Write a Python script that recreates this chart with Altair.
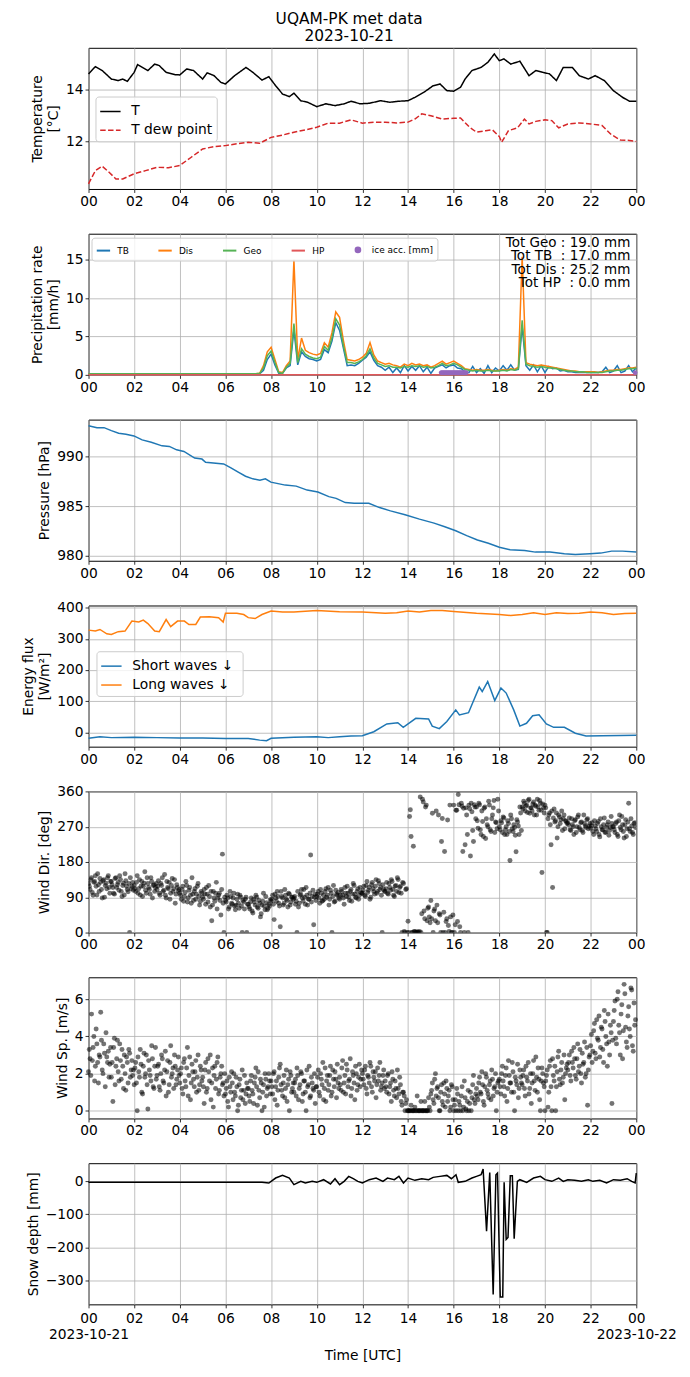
import altair as alt
import pandas as pd

# ---------------- data ----------------
# Temperature [degC]
T_t = [0, 0.3, 0.6, 1.0, 1.3, 1.5, 1.7, 2.0, 2.15, 2.6, 2.9, 3.1, 3.4, 3.8, 4.0, 4.3, 4.6, 5.0, 5.2, 5.5,
       5.8, 6.0, 6.4, 6.9, 7.2, 7.6, 7.9, 8.2, 8.5, 8.8, 9.0, 9.3, 9.6, 10.0, 10.4, 10.8, 11.2, 11.5, 11.9, 12.3,
       12.8, 13.2, 13.6, 14.0, 14.3, 14.7, 15.1, 15.4, 15.7, 16.0, 16.3, 16.5, 16.8, 17.2, 17.5, 17.78, 18.0, 18.2, 18.5, 18.9,
       19.3, 19.6, 19.9, 20.2, 20.5, 20.8, 21.2, 21.5, 21.9, 22.2, 22.6, 23.0, 23.4, 23.7, 24.0]
T_v = [14.61, 14.89, 14.74, 14.41, 14.35, 14.41, 14.32, 14.67, 14.97, 14.74, 14.99, 14.93, 14.67, 14.58, 14.57, 14.8, 14.74, 14.41, 14.65, 14.54,
       14.28, 14.22, 14.54, 14.86, 14.67, 14.37, 14.50, 14.15, 13.83, 13.73, 13.86, 13.57, 13.51, 13.34, 13.45, 13.38, 13.45, 13.55, 13.45, 13.47,
       13.57, 13.51, 13.55, 13.57, 13.7, 13.9, 14.15, 14.22, 13.96, 13.94, 14.09, 14.41, 14.74, 14.86, 15.06, 15.38, 15.12, 15.19, 14.99, 15.1,
       14.54, 14.74, 14.67, 14.61, 14.35, 14.86, 14.86, 14.54, 14.41, 14.54, 14.35, 13.96, 13.70, 13.55, 13.55]
Td_t = [0, 0.3, 0.6, 0.9, 1.2, 1.5, 2.0, 2.5, 3.0, 3.5, 4.0, 4.5, 5.0, 5.5, 6.0, 6.5, 7.0, 7.5, 8.0, 8.5,
        9.0, 9.5, 10.0, 10.5, 11.0, 11.5, 12.0, 12.5, 13.0, 13.5, 14.0, 14.3, 14.6, 15.0, 15.5, 16.0, 16.3, 16.7, 17.0, 17.4,
        17.7, 18.0, 18.1, 18.4, 18.8, 19.1, 19.3, 19.6, 20.0, 20.3, 20.6, 21.0, 21.5, 22.0, 22.5, 22.9, 23.3, 23.7, 24.0]
Td_v = [10.35, 10.86, 11.03, 10.80, 10.54, 10.54, 10.74, 10.86, 10.99, 10.97, 11.06, 11.38, 11.70, 11.79, 11.83, 11.90, 11.96, 11.92, 12.15, 12.24,
        12.35, 12.44, 12.54, 12.70, 12.70, 12.83, 12.70, 12.74, 12.74, 12.71, 12.74, 12.86, 13.06, 12.99, 12.86, 12.89, 12.9, 12.54, 12.35, 12.41,
        12.44, 12.18, 11.96, 12.41, 12.52, 12.86, 12.67, 12.77, 12.83, 12.8, 12.52, 12.67, 12.71, 12.67, 12.61, 12.26, 12.05, 12.03, 11.99]

# Precipitation rate [mm/h] : two early samples, then 10-min samples from 07:30
PR_t = [0, 7.33] + [7.5 + i / 6 for i in range(100)]
PR_dis = [0.15, 0.15,
          0.2, 1.2, 3.0, 3.6, 2.0, 0.4, 0.3, 1.2, 1.8, 15.0, 2.0, 4.8,
          3.2, 2.9, 2.7, 2.6, 2.8, 4.2, 3.6, 5.5, 8.2, 7.5, 4.5, 2.0,
          1.9, 1.8, 2.0, 2.3, 2.8, 4.2, 2.6, 1.8, 1.6, 1.4, 1.5, 1.3,
          1.2, 1.0, 1.4, 1.2, 1.5, 1.3, 1.4, 1.2, 1.3, 1.0, 1.2, 1.5,
          1.8, 1.4, 1.6, 1.8, 1.5, 1.2, 0.8, 0.7, 0.6, 0.7, 0.6, 0.6,
          0.7, 0.6, 0.5, 0.6, 0.7, 0.6, 0.8, 0.7, 1.0, 15.4, 1.6, 1.4,
          1.3, 1.2, 1.3, 1.2, 1.1, 1.0, 0.9, 0.8, 0.7, 0.6, 0.5, 0.5,
          0.4, 0.4, 0.4, 0.4, 0.4, 0.3, 0.4, 0.5, 0.6, 0.6, 0.7, 0.7,
          0.8, 0.9, 0.9, 1.0]
PR_geo = [0.15, 0.15,
          0.2, 0.9, 2.5, 3.1, 1.6, 0.3, 0.2, 1.0, 1.5, 6.7, 1.6, 3.4,
          2.7, 2.4, 2.2, 2.1, 2.3, 3.7, 3.2, 4.8, 7.3, 6.5, 3.8, 1.6,
          1.6, 1.5, 1.7, 2.0, 2.5, 3.4, 2.2, 1.5, 1.3, 1.1, 1.2, 1.0,
          1.0, 0.9, 1.1, 1.0, 1.2, 1.1, 1.2, 1.0, 1.1, 0.9, 1.0, 1.2,
          1.5, 1.2, 1.3, 1.5, 1.3, 1.0, 0.7, 0.6, 0.5, 0.6, 0.5, 0.5,
          0.6, 0.5, 0.5, 0.5, 0.6, 0.5, 0.7, 0.6, 0.8, 7.1, 1.4, 1.2,
          1.1, 1.0, 1.1, 1.0, 0.9, 0.9, 0.8, 0.7, 0.6, 0.5, 0.5, 0.4,
          0.4, 0.4, 0.3, 0.3, 0.3, 0.3, 0.3, 0.4, 0.5, 0.5, 0.6, 0.6,
          0.7, 0.8, 0.8, 0.9]
PR_tb = [0.15, 0.15,
         0.15, 0.6, 2.0, 2.7, 1.3, 0.2, 0.2, 0.9, 1.2, 5.9, 1.3, 3.0,
         2.4, 2.1, 2.0, 1.8, 2.0, 3.3, 2.9, 4.4, 6.8, 5.8, 3.5, 1.2,
         1.3, 1.2, 1.5, 1.9, 2.3, 3.0, 1.9, 1.2, 1.0, 0.6, 1.0, 0.3,
         0.9, 0.3, 1.2, 0.5, 1.1, 0.6, 1.2, 0.4, 1.0, 0.2, 0.9, 1.1,
         1.3, 0.9, 1.2, 1.3, 0.9, 0.8, 0.4, 0.3, 1.1, 0.3, 0.8, 0.2,
         1.2, 0.3, 0.9, 0.5, 1.2, 0.6, 1.3, 0.6, 0.7, 6.3, 1.2, 0.6,
         1.3, 0.4, 1.2, 0.3, 1.1, 0.8, 0.9, 0.5, 0.6, 0.4, 0.4, 0.3,
         0.3, 0.3, 0.3, 0.3, 0.3, 0.3, 0.4, 1.0, 0.3, 0.5, 1.2, 0.3,
         0.5, 1.2, 0.4, 0.9]
HP_t = [0, 24]
HP_v = [0.0, 0.0]
ICE_t = [15.45, 15.5, 15.55, 15.6, 15.65, 15.7, 15.75, 15.8, 15.85, 15.9, 15.95, 16.0,
         16.05, 16.1, 16.15, 16.2, 16.25, 16.3, 16.35, 16.4, 16.45, 16.5, 16.55, 23.95]
ICE_v = [0.3, 0.3, 0.3, 0.3, 0.3, 0.3, 0.3, 0.3, 0.3, 0.3, 0.3, 0.3,
         0.3, 0.3, 0.3, 0.3, 0.3, 0.3, 0.3, 0.3, 0.3, 0.3, 0.3, 0.3]
TOTALS = ["Tot Geo : 19.0 mm", "Tot TB\u00a0 : 17.0 mm", "Tot Dis : 25.2 mm", "Tot HP\u00a0 : 0.0 mm"]

# Pressure [hPa]
P_t = [0.0, 0.37, 0.68, 1.0, 1.32, 1.64, 1.99, 2.35, 2.75, 3.22, 3.54, 3.86, 4.18, 4.65, 4.97, 5.13, 5.92, 6.24, 6.56, 6.88,
       7.2, 7.51, 7.75, 7.99, 8.62, 9.1, 9.58, 10.05, 10.53, 10.85, 11.25, 11.64, 12.28, 12.75, 13.23, 13.87, 14.5, 15.14, 15.61, 16.09,
       16.57, 17.04, 17.52, 18.0, 18.47, 19.11, 19.58, 20.22, 20.85, 21.33, 21.97, 22.44, 22.92, 23.4, 24.0]
P_v = [993.09, 992.89, 992.89, 992.59, 992.33, 992.23, 992.06, 991.66, 991.43, 991.06, 991.0, 990.66, 990.5, 989.83, 989.73, 989.4, 989.24, 988.84, 988.41, 988.0,
       987.74, 987.61, 987.74, 987.41, 987.11, 987.01, 986.61, 986.41, 985.95, 985.78, 985.35, 985.28, 985.28, 984.85, 984.52, 984.12, 983.69, 983.29, 982.92, 982.52,
       982.03, 981.59, 981.26, 980.86, 980.6, 980.53, 980.37, 980.37, 980.2, 980.13, 980.2, 980.27, 980.47, 980.47, 980.37]

# Energy flux [W/m2]
SW_t = [0, 0.5, 1, 2, 3, 4, 5, 6, 7, 7.5, 7.8, 8, 9, 10, 10.5, 11, 11.5, 12, 12.5, 13.07,
        13.55, 13.79, 14.34, 14.9, 15.06, 15.37, 15.7, 16.09, 16.25, 16.65, 17.12, 17.25, 17.49, 17.8, 18.07, 18.3, 18.63, 18.9, 19.19, 19.46,
        19.74, 20.06, 20.38, 20.85, 21.33, 21.8, 22.5, 23.3, 24]
SW_v = [-19, -14, -17, -16, -17, -18, -18, -20, -20, -25, -27, -19, -16, -14, -17, -14, -12, -11, 2, 27,
        31, 16, 45, 43, 20, 12, 35, 72, 56, 63, 145, 131, 163, 102, 142, 126, 72, 20, 29, 53,
        56, 27, 16, 16, -3, -12, -11, -10, -9]
LW_t = [0, 0.3, 0.5, 0.8, 1.0, 1.3, 1.6, 1.9, 2.2, 2.4, 2.6, 2.9, 3.1, 3.4, 3.6, 3.9, 4.2, 4.4, 4.7, 4.9,
        5.3, 5.7, 5.9, 6.0, 6.5, 6.8, 7.0, 7.3, 7.6, 8.0, 8.5, 9, 10, 11, 12, 13, 13.5, 14, 14.5, 15,
        15.5, 16, 17, 18, 18.5, 19, 19.5, 20, 20.5, 21, 21.5, 22, 22.5, 23, 23.5, 24]
LW_v = [328, 325, 330, 316, 314, 323, 325, 357, 354, 360, 349, 325, 323, 362, 339, 357, 357, 346, 346, 370,
        371, 368, 354, 382, 382, 378, 368, 365, 378, 389, 386, 386, 391, 387, 386, 382, 384, 389, 386, 391,
        391, 388, 382, 378, 375, 378, 384, 378, 384, 381, 382, 386, 384, 378, 381, 382]

# Wind direction [deg]: per hour, 15 samples on the even 4-min marks (A) and 15 in between (B)
WDIR_A = [
    [125, 110, 140, 95, 130, 118, 150, 105, 128, 88, 135, 120, 112, 145, 100],
    [130, 115, 98, 140, 122, 108, 135, 92, 126, 150, 118, 104, 0, 112, 128],
    [120, 105, 145, 112, 96, 130, 118, 155, 100, 125, 110, 140, 88, 122, 115],
    [110, 132, 95, 120, 105, 148, 88, 115, 128, 100, 138, 112, 75, 122, 106],
    [100, 85, 118, 92, 130, 78, 108, 95, 140, 82, 112, 98, 125, 70, 105],
    [90, 110, 72, 98, 120, 65, 30, 105, 80, 128, 88, 100, 45, 200, 0],
    [82, 95, 60, 105, 75, 88, 68, 70, 98, 62, 90, 0, 78, 85, 0],
    [72, 60, 88, 50, 78, 95, 65, 82, 40, 70, 100, 58, 76, 62, 68],
    [80, 95, 33, 88, 105, 75, 15, 92, 70, 110, 85, 65, 98, 78, 90],
    [88, 72, 0, 65, 95, 110, 80, 90, 115, 70, 85, 198, 92, 20, 98],
    [92, 105, 75, 100, 82, 85, 112, 95, 70, 108, 0, 120, 80, 98, 102],
    [85, 110, 95, 72, 100, 118, 90, 105, 80, 125, 98, 88, 112, 95, 102],
    [100, 118, 92, 130, 108, 85, 122, 112, 98, 135, 105, 125, 115, 0, 110],
    [105, 128, 98, 115, 135, 110, 92, 120, 140, 102, 118, 0, 125, 0, 112],
    [29, 296, 245, 0, 3, 0, 2, 0, 346, 48, 333, 35, 325, 62, 40],
    [82, 304, 55, 30, 70, 300, 45, 232, 0, 207, 28, 287, 3, 40, 0],
    [325, 20, 312, 352, 15, 330, 207, 0, 318, 250, 325, 195, 308, 232, 320],
    [320, 266, 326, 250, 283, 317, 240, 275, 335, 262, 290, 318, 255, 280, 340],
    [270, 285, 255, 292, 262, 250, 278, 184, 290, 258, 268, 206, 282, 250, 305],
    [320, 335, 310, 325, 337, 304, 318, 328, 300, 322, 340, 312, 330, 153, 318],
    [325, 0, 290, 305, 224, 115, 315, 285, 241, 300, 278, 310, 290, 265, 283],
    [280, 292, 260, 275, 250, 288, 270, 300, 262, 282, 255, 278, 268, 290, 272],
    [266, 280, 250, 272, 258, 283, 244, 270, 262, 292, 256, 275, 248, 268, 278],
    [270, 255, 282, 245, 300, 262, 275, 241, 288, 265, 330, 258, 272, 250, 280],
]
WDIR_B = [
    [118, 135, 102, 128, 145, 96, 122, 138, 110, 132, 90, 126, 140, 115, 130],
    [122, 100, 138, 115, 128, 145, 105, 120, 96, 132, 110, 125, 140, 118, 108],
    [112, 128, 100, 135, 118, 92, 126, 108, 140, 115, 98, 130, 120, 105, 125],
    [118, 100, 125, 140, 108, 95, 130, 112, 85, 120, 105, 135, 98, 115, 110],
    [95, 110, 80, 102, 120, 88, 115, 75, 98, 105, 85, 118, 92, 80, 100],
    [85, 98, 115, 78, 92, 105, 70, 88, 100, 60, 95, 82, 110, 75, 90],
    [78, 88, 65, 92, 72, 100, 58, 85, 75, 95, 68, 82, 60, 90, 72],
    [65, 78, 55, 85, 70, 90, 62, 75, 48, 80, 68, 92, 58, 72, 84],
    [85, 72, 98, 80, 92, 68, 105, 88, 75, 95, 82, 100, 70, 90, 85],
    [92, 80, 105, 75, 98, 88, 110, 72, 95, 85, 100, 78, 108, 90, 82],
    [98, 88, 110, 80, 95, 105, 90, 115, 85, 100, 92, 78, 108, 95, 88],
    [95, 105, 88, 115, 92, 100, 82, 110, 98, 120, 90, 105, 85, 115, 100],
    [108, 95, 120, 102, 115, 90, 128, 105, 118, 100, 132, 110, 95, 122, 105],
    [112, 100, 125, 108, 130, 95, 118, 105, 135, 115, 100, 128, 3, 110, 0],
    [0, 313, 0, 220, 2, 0, 0, 3, 0, 340, 55, 320, 30, 65, 25],
    [35, 0, 60, 310, 25, 48, 0, 291, 52, 0, 35, 18, 325, 0, 45],
    [0, 312, 28, 326, 0, 322, 317, 224, 300, 0, 316, 330, 260, 326, 290],
    [285, 330, 262, 310, 245, 320, 290, 270, 325, 258, 300, 337, 282, 265, 310],
    [262, 280, 295, 250, 270, 285, 258, 300, 265, 275, 248, 288, 272, 320, 260],
    [315, 330, 322, 306, 340, 318, 310, 333, 325, 300, 320, 337, 312, 328, 305],
    [318, 0, 300, 275, 310, 292, 282, 305, 270, 295, 288, 260, 300, 285, 278],
    [275, 262, 290, 270, 285, 255, 295, 268, 280, 260, 300, 272, 288, 265, 278],
    [272, 258, 285, 265, 278, 250, 290, 262, 275, 255, 268, 282, 260, 296, 270],
    [262, 278, 250, 285, 268, 296, 258, 275, 245, 282, 265, 290, 255, 278, 268],
]
# Wind speed [m/s], same sampling as the direction
WSPD_A = [
    [2.1, 2.8, 5.2, 3.4, 1.6, 4.4, 2.6, 3.0, 5.3, 2.2, 3.6, 1.3, 2.9, 3.2, 2.5],
    [1.8, 0.5, 3.9, 2.4, 3.8, 1.6, 2.7, 3.3, 1.2, 2.0, 2.9, 1.5, 3.1, 2.2, 1.9],
    [1.4, 2.6, 0.0, 2.1, 3.3, 1.0, 2.4, 1.8, 3.0, 0.1, 2.2, 1.6, 2.8, 1.2, 3.4],
    [1.9, 2.5, 1.1, 3.0, 1.6, 2.2, 0.8, 2.7, 1.4, 3.5, 2.0, 1.2, 2.4, 1.7, 2.9],
    [1.5, 2.3, 0.9, 2.8, 1.3, 3.4, 1.9, 0.6, 2.5, 1.7, 2.1, 1.0, 3.0, 1.4, 2.2],
    [1.8, 0.4, 2.6, 1.2, 2.1, 3.0, 1.5, 0.2, 2.4, 1.7, 2.9, 1.1, 2.0, 1.4, 0.8],
    [0.9, 1.6, 0.2, 1.3, 2.1, 0.6, 1.0, 1.8, 0.0, 1.4, 0.7, 2.2, 1.1, 0.4, 1.5],
    [1.2, 0.5, 1.9, 0.9, 1.5, 2.3, 0.3, 1.1, 1.7, 0.0, 1.4, 2.0, 0.8, 1.3, 1.6],
    [1.6, 0.9, 2.1, 1.3, 0.3, 1.8, 2.5, 1.1, 1.5, 0.7, 2.2, 1.4, 0.0, 1.9, 1.2],
    [1.0, 1.7, 2.3, 0.6, 1.4, 2.0, 0.9, 1.6, 0.0, 1.3, 2.4, 0.8, 1.5, 1.1, 0.4],
    [1.3, 2.2, 0.8, 1.7, 2.6, 1.2, 0.5, 1.9, 1.4, 2.4, 1.0, 1.7, 2.1, 0.7, 1.5],
    [1.8, 1.1, 2.7, 1.5, 0.9, 2.2, 1.6, 2.8, 1.2, 1.9, 0.6, 2.0, 1.4, 2.5, 1.7],
    [2.0, 1.4, 2.4, 0.9, 1.8, 2.6, 1.3, 2.1, 1.6, 0.7, 2.3, 1.9, 1.1, 1.5, 2.2],
    [1.6, 1.0, 2.0, 1.3, 0.5, 1.7, 0.8, 1.2, 2.2, 0.9, 1.4, 0.3, 1.0, 0.0, 0.6],
    [0.0, 0.0, 0.3, 0.0, 0.0, 0.0, 0.8, 0.0, 0.0, 0.0, 0.0, 0.5, 0.0, 0.0, 0.2],
    [0.9, 1.5, 0.4, 2.0, 1.2, 0.7, 0.0, 1.4, 0.3, 0.9, 1.6, 0.5, 1.1, 0.2, 1.3],
    [0.0, 0.6, 1.2, 0.0, 0.3, 0.8, 0.0, 1.6, 0.1, 0.5, 0.0, 1.0, 0.7, 1.9, 0.4],
    [1.2, 0.6, 1.8, 0.9, 1.4, 0.3, 2.0, 1.1, 0.7, 1.6, 2.2, 0.8, 1.3, 0.0, 1.5],
    [1.7, 0.9, 2.4, 1.3, 1.9, 0.5, 2.7, 1.5, 1.0, 2.1, 0.0, 1.6, 2.5, 1.2, 1.8],
    [1.4, 2.2, 0.8, 1.8, 2.6, 1.2, 0.4, 2.0, 1.6, 2.9, 1.0, 1.7, 0.0, 2.3, 1.5],
    [0.0, 1.9, 0.2, 2.4, 1.3, 2.8, 1.6, 0.0, 2.1, 3.2, 1.4, 2.6, 1.8, 0.6, 2.3],
    [2.2, 3.0, 1.6, 2.6, 3.4, 1.9, 2.8, 2.1, 3.3, 1.5, 2.5, 3.7, 2.0, 0.3, 2.9],
    [3.5, 2.6, 4.3, 3.1, 4.9, 3.8, 2.9, 4.5, 3.3, 5.4, 4.0, 2.4, 3.7, 4.6, 0.4],
    [4.8, 5.9, 3.6, 6.4, 4.2, 5.2, 2.8, 6.8, 4.5, 3.4, 5.6, 4.0, 6.5, 3.2, 4.6],
]
WSPD_B = [
    [3.3, 1.9, 2.7, 4.0, 2.4, 3.6, 1.5, 2.9, 3.8, 2.0, 3.1, 4.2, 2.6, 1.8, 3.4],
    [2.6, 3.4, 1.4, 2.8, 2.1, 3.6, 1.7, 2.4, 3.0, 1.1, 2.6, 3.3, 1.8, 2.7, 2.2],
    [2.3, 1.5, 2.9, 1.8, 2.5, 0.9, 3.1, 2.0, 1.4, 2.7, 1.9, 3.5, 1.3, 2.4, 1.7],
    [2.4, 1.3, 2.0, 2.8, 1.5, 3.2, 2.1, 1.0, 2.6, 1.8, 2.3, 3.0, 1.4, 2.2, 1.9],
    [2.0, 1.2, 2.6, 1.6, 2.3, 0.8, 2.9, 1.5, 2.1, 1.3, 2.7, 1.8, 1.1, 2.4, 1.6],
    [1.3, 2.2, 1.0, 2.8, 1.6, 0.6, 2.3, 1.9, 1.2, 2.6, 0.9, 1.8, 2.4, 1.5, 2.0],
    [1.2, 0.5, 1.8, 1.0, 1.5, 2.0, 0.8, 1.3, 0.3, 1.7, 1.1, 0.6, 1.9, 0.9, 1.2],
    [0.8, 1.6, 1.1, 0.4, 1.8, 1.3, 2.1, 0.7, 1.5, 1.0, 0.2, 1.7, 1.2, 2.0, 0.9],
    [1.3, 2.0, 0.6, 1.6, 1.1, 2.3, 1.4, 0.8, 1.9, 1.2, 0.5, 1.7, 2.1, 1.0, 1.5],
    [1.5, 0.8, 1.9, 1.2, 2.1, 0.5, 1.6, 1.0, 2.2, 1.4, 0.7, 1.8, 1.2, 2.0, 1.3],
    [1.8, 1.0, 2.0, 1.4, 0.6, 2.3, 1.6, 1.1, 1.9, 0.8, 2.2, 1.3, 1.7, 2.5, 1.2],
    [1.4, 2.3, 1.0, 1.9, 2.5, 1.3, 1.7, 0.8, 2.1, 1.5, 2.4, 1.1, 1.8, 1.3, 2.2],
    [1.7, 2.2, 1.2, 1.9, 1.5, 2.4, 1.0, 1.8, 2.1, 1.4, 1.6, 2.6, 1.3, 1.9, 1.2],
    [1.3, 1.9, 0.9, 1.5, 2.1, 1.1, 1.6, 0.7, 1.2, 1.8, 0.5, 1.0, 0.8, 0.4, 0.0],
    [0.0, 0.0, 0.0, 0.0, 0.2, 0.0, 0.0, 0.0, 0.5, 0.0, 0.0, 0.0, 0.0, 0.7, 0.0],
    [1.1, 0.6, 1.7, 0.8, 1.3, 0.0, 1.0, 0.5, 1.5, 0.2, 1.2, 0.8, 0.0, 1.4, 0.6],
    [0.3, 0.0, 0.9, 0.5, 0.0, 1.3, 0.2, 0.7, 0.0, 1.1, 0.4, 0.0, 1.4, 0.6, 0.9],
    [0.8, 1.5, 1.0, 2.1, 0.5, 1.3, 1.8, 0.9, 1.4, 0.6, 1.7, 1.2, 2.0, 1.0, 1.6],
    [1.3, 2.0, 1.6, 0.8, 2.3, 1.2, 1.9, 1.5, 2.6, 1.0, 1.8, 1.4, 0.7, 2.2, 1.5],
    [1.9, 1.2, 2.4, 1.6, 0.9, 2.0, 1.5, 2.7, 1.1, 1.8, 2.3, 0.6, 1.6, 2.0, 1.3],
    [1.6, 2.2, 1.0, 2.7, 0.0, 1.9, 2.4, 1.3, 2.9, 1.7, 2.2, 1.5, 3.0, 2.0, 2.5],
    [2.6, 1.9, 3.2, 2.3, 2.8, 1.7, 3.6, 2.4, 2.0, 3.1, 2.6, 1.8, 3.4, 2.2, 3.0],
    [4.1, 3.2, 4.7, 2.8, 3.9, 5.1, 3.4, 4.4, 2.6, 4.8, 3.6, 5.2, 3.0, 4.2, 3.8],
    [5.4, 3.9, 6.0, 4.6, 3.0, 5.7, 4.3, 6.3, 3.7, 5.1, 4.4, 6.6, 3.5, 5.8, 4.9],
]

# Snow depth [mm]
S_t = [0, 7.6, 7.9, 8.2, 8.5, 8.8, 9.0, 9.3, 9.5, 9.8, 10.0, 10.3, 10.6, 10.8, 11.0, 11.2, 11.4, 11.6, 11.8, 12.0,
       12.3, 12.6, 12.9, 13.1, 13.4, 13.6, 13.8, 14.0, 14.3, 14.6, 14.9, 15.1, 15.4, 15.7, 15.9, 16.1, 16.2, 16.5, 16.8, 17.0,
       17.2, 17.29, 17.44, 17.58, 17.73, 17.85, 17.92, 18.04, 18.15, 18.21, 18.3, 18.38, 18.48, 18.57, 18.65, 18.79, 18.9, 19.2, 19.5, 19.8,
       20.0, 20.3, 20.6, 20.8, 21.0, 21.3, 21.6, 21.9, 22.1, 22.4, 22.7, 23.0, 23.3, 23.6, 23.8, 23.95, 24.0]
S_v = [-3, -3, -5, 10, 18, 10, -10, 0, -5, 0, -3, 5, -8, 8, -10, 0, 15, 8, 0, -5,
       5, 10, 0, 10, 5, 15, -5, 10, 3, 8, 5, 12, 15, 18, 8, 20, -3, 0, 10, 15,
       20, 37, -151, 27, -343, 20, 25, -351, -351, -3, -176, -170, 17, 17, -174, 0, 5, -3, 10, 15,
       5, 0, 10, 0, 5, 3, 0, 5, 0, 3, -5, 5, 3, 8, 0, -5, 25]

# ---------------- styling ----------------
FONT = "DejaVu Sans"
FS = 13.9
W, H = 551, 142
BLUE, ORANGE, GREEN, RED, PURPLE = "#1f77b4", "#ff7f0e", "#56b356", "#e15759", "#9467bd"
DOT = "M-0.35,0A0.35,0.35 0 1,0 0.35,0A0.35,0.35 0 1,0 -0.35,0Z"   # small dot symbol (unit coords)
XSC = alt.Scale(domain=[0, 24], nice=False, zero=False)
XTICKS = list(range(0, 25, 2))
LBL = "(datum.value % 24 < 10 ? '0' : '') + (datum.value % 24)"
LBL_BOTTOM = ("datum.value == 0 ? ['00', '2023-10-21'] : (datum.value == 24 ? ['00', '2023-10-22'] : "
              + LBL + ")")


def xenc(bottom=False):
    if bottom:
        ax = alt.Axis(values=XTICKS, labelExpr=LBL_BOTTOM, title="Time [UTC]", labelFlush=False,
                      labelOverlap=False, labelLineHeight=16, labelPadding=4, titlePadding=7)
    else:
        ax = alt.Axis(values=XTICKS, labelExpr=LBL, title=None, labelFlush=False, labelOverlap=False)
    return alt.X("t:Q", scale=XSC, axis=ax)


def yenc(domain, ticks, title):
    return alt.Y("v:Q", scale=alt.Scale(domain=domain, nice=False, zero=False),
                 axis=alt.Axis(values=ticks, title=title, labelFlush=False, labelOverlap=False))


def box_legend(x, y, **kw):
    base = dict(title=None, orient="none", legendX=x, legendY=y, symbolType="stroke",
                symbolStrokeWidth=1.5, strokeColor="#cccccc", fillColor="rgba(255,255,255,0.8)",
                cornerRadius=3, labelFont=FONT, labelColor="black")
    base.update(kw)
    return alt.Legend(**base)


# ---- panel 1: temperature ----
df1 = pd.concat([pd.DataFrame({"t": T_t, "v": T_v, "s": "T"}),
                 pd.DataFrame({"t": Td_t, "v": Td_v, "s": "T dew point"})])
leg1 = box_legend(7, 49, symbolSize=420, labelFontSize=FS, padding=4, rowPadding=1, labelOffset=10)
p1 = alt.Chart(df1).mark_line(strokeWidth=1.5).encode(
    x=xenc(), y=yenc([10.15, 15.62], [12, 14], ["Temperature", "[°C]"]),
    color=alt.Color("s:N", scale=alt.Scale(domain=["T", "T dew point"], range=["black", "#d62728"]), legend=leg1),
    strokeDash=alt.StrokeDash("s:N", scale=alt.Scale(domain=["T", "T dew point"], range=[[1, 0], [5.5, 2.4]]), legend=leg1),
).properties(width=W, height=H)

# ---- panel 2: precipitation ----
SER = ["TB", "Dis", "Geo", "HP", "ice acc. [mm]"]
SER_COL = [BLUE, ORANGE, GREEN, RED, PURPLE]
df2 = pd.concat([pd.DataFrame({"t": PR_t, "v": PR_tb, "s": "TB"}),
                 pd.DataFrame({"t": PR_t, "v": PR_dis, "s": "Dis"}),
                 pd.DataFrame({"t": PR_t, "v": PR_geo, "s": "Geo"}),
                 pd.DataFrame({"t": HP_t, "v": HP_v, "s": "HP"})])
df2["o"] = df2["s"].map({"TB": 0, "Dis": 1, "Geo": 2, "HP": 3})
ice_df = pd.DataFrame({"t": ICE_t, "v": ICE_v, "s": "ice acc. [mm]"})
leg2 = box_legend(3, 4, direction="horizontal", columns=5, labelFontSize=9, symbolSize=180,
                  padding=4, columnPadding=25, labelOffset=6, symbolStrokeWidth=2)
col2 = alt.Color("s:N", scale=alt.Scale(domain=SER, range=SER_COL), legend=leg2)
y2 = yenc([0, 18.4], [0, 5, 10, 15], ["Precipitation rate", "[mm/h]"])
lines2 = alt.Chart(df2).mark_line(strokeWidth=1.5).encode(x=xenc(), y=y2, color=col2, detail="o:O")
ice2 = alt.Chart(ice_df).mark_point(filled=True, opacity=1, size=180).encode(
    x=xenc(), y=y2, color=col2,
    shape=alt.Shape("s:N", scale=alt.Scale(domain=SER, range=["stroke", "stroke", "stroke", "stroke", DOT]),
                    legend=leg2))
txt2 = alt.Chart(pd.DataFrame({"txt": ["\n".join(TOTALS)]})).mark_text(
    align="right", baseline="top", lineBreak="\n", font=FONT, fontSize=13.6, lineHeight=13.7, color="black"
).encode(x=alt.value(W - 6), y=alt.value(2), text="txt:N")
p2 = alt.layer(lines2, ice2, txt2).properties(width=W, height=H)

# ---- panel 3: pressure ----
p3 = alt.Chart(pd.DataFrame({"t": P_t, "v": P_v})).mark_line(strokeWidth=1.5, color=BLUE).encode(
    x=xenc(), y=yenc([979.5, 993.7], [980, 985, 990], "Pressure [hPa]")
).properties(width=W, height=H)

# ---- panel 4: energy flux ----
df4 = pd.concat([pd.DataFrame({"t": SW_t, "v": SW_v, "s": "Short waves  ↓"}),
                 pd.DataFrame({"t": LW_t, "v": LW_v, "s": "Long waves  ↓"})])
leg4 = box_legend(8, 46, symbolSize=420, labelFontSize=FS, padding=4, rowPadding=1, labelOffset=10)
p4 = alt.Chart(df4).mark_line(strokeWidth=1.5).encode(
    x=xenc(), y=yenc([-46, 407], [0, 100, 200, 300, 400], ["Energy flux", "[W/m²]"]),
    color=alt.Color("s:N", scale=alt.Scale(domain=["Short waves  ↓", "Long waves  ↓"], range=[BLUE, ORANGE]),
                    legend=leg4),
).properties(width=W, height=H)

# ---- panels 5/6: wind ----
wt, wd, ws = [], [], []
for h in range(24):
    for k in range(15):
        wt.append(h + k / 15)
        wd.append(WDIR_A[h][k])
        ws.append(WSPD_A[h][k])
        wt.append(h + (k + 0.5) / 15)
        wd.append(WDIR_B[h][k])
        ws.append(WSPD_B[h][k])
p5 = alt.Chart(pd.DataFrame({"t": wt, "v": wd})).mark_circle(size=25, opacity=0.55, color="black", clip=True).encode(
    x=xenc(), y=yenc([0, 360], [0, 90, 180, 270, 360], "Wind Dir. [deg]")
).properties(width=W, height=H)
p6 = alt.Chart(pd.DataFrame({"t": wt, "v": ws})).mark_circle(size=25, opacity=0.55, color="black").encode(
    x=xenc(), y=yenc([-0.41, 7.18], [0, 2, 4, 6], "Wind Sp. [m/s]")
).properties(width=W, height=H)

# ---- panel 7: snow depth ----
p7 = alt.Chart(pd.DataFrame({"t": S_t, "v": S_v})).mark_line(strokeWidth=1.5, color="black").encode(
    x=xenc(bottom=True), y=yenc([-373, 55], [-300, -200, -100, 0], "Snow depth [mm]")
).properties(width=W, height=H)

chart = alt.vconcat(p1, p2, p3, p4, p5, p6, p7, spacing=45, bounds="flush").properties(
    title=alt.TitleParams(["UQAM-PK met data", "2023-10-21"], anchor="middle", font=FONT, fontSize=15.5,
                          fontWeight="normal", lineHeight=17, offset=3, color="black"),
    padding={"left": 13, "top": 0, "right": 5, "bottom": 5},
).resolve_scale(color="independent", shape="independent", strokeDash="independent").configure(
    font=FONT
).configure_view(stroke="black", strokeWidth=1).configure_axis(
    grid=True, gridColor="#b0b0b0", gridWidth=0.8, domain=False, tickColor="black", tickSize=3.5, tickWidth=0.8,
    labelColor="black", labelFont=FONT, labelFontSize=FS, labelPadding=2, titleFont=FONT, titleFontSize=FS,
    titleFontWeight="normal", titleColor="black", titlePadding=5, titleLineHeight=16
)

chart.save("out.html", embed_options={"renderer": "svg", "actions": False})
